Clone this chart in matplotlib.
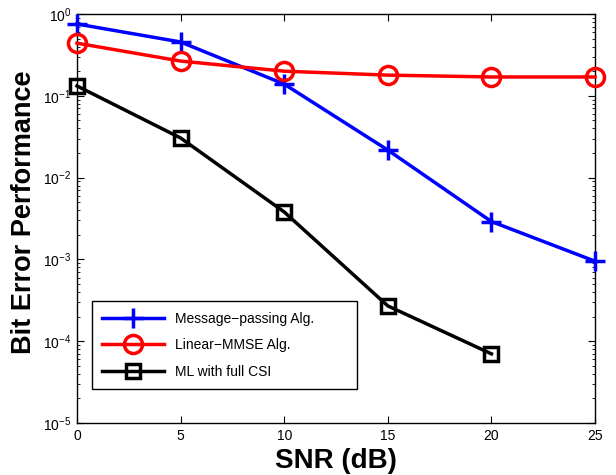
import numpy as np
import matplotlib
matplotlib.use("Agg")
import matplotlib.pyplot as plt

plt.rcParams['font.family'] = ['Liberation Sans', 'DejaVu Sans']

# SNR in dB
snr = [0, 5, 10, 15, 20, 25]
snr_ml = [0, 5, 10, 15, 20]

# bit error rates
ber_mp = [0.755, 0.455, 0.139, 0.0217, 0.0029, 0.00095]
ber_mmse = [0.44, 0.266, 0.20, 0.179, 0.17, 0.17]
ber_ml = [0.132, 0.0305, 0.0038, 2.7e-4, 7.0e-5]

labels = ["Message\u2212passing Alg.", "Linear\u2212MMSE Alg.", "ML with full CSI"]

fig = plt.figure(figsize=(6.16, 4.75), dpi=100)
ax = fig.add_axes([0.125, 0.1095, 0.841, 0.861])

ax.semilogy(snr, ber_mp, "b-", marker="+", markersize=14, markeredgewidth=2.5,
            linewidth=2.5, label=labels[0], clip_on=False, zorder=3)
ax.semilogy(snr, ber_mmse, "r-", marker="o", markersize=13, markeredgewidth=2.5,
            markerfacecolor="none", linewidth=2.5, label=labels[1], clip_on=False, zorder=3)
ax.semilogy(snr_ml, ber_ml, "k-", marker="s", markersize=10, markeredgewidth=2.5,
            markerfacecolor="none", linewidth=2.5, label=labels[2], clip_on=False, zorder=3)

ax.set_xlim(0, 25)
ax.set_ylim(1e-5, 1)
ax.set_xticks([0, 5, 10, 15, 20, 25])
ax.tick_params(which="both", direction="in", top=True, right=True, labelsize=10)
ax.tick_params(which="major", length=5, pad=4)
ax.tick_params(which="minor", length=2.5)
for s in ax.spines.values():
    s.set_linewidth(1.0)

ax.set_xlabel("SNR (dB)", fontsize=20, fontweight="bold", labelpad=4)
ax.set_ylabel("Bit Error Performance", fontsize=19.5, fontweight="bold")
ax.yaxis.set_label_coords(-0.077, 0.515)

leg = ax.legend(loc="lower left", bbox_to_anchor=(0.029, 0.083, 0.512, 0.21),
                mode="expand", fontsize=10, fancybox=False, framealpha=1,
                edgecolor="black", handlelength=4.4, borderaxespad=0,
                labelspacing=0.9, borderpad=0.75)
leg.get_frame().set_linewidth(1.0)

plt.savefig("out.png")
